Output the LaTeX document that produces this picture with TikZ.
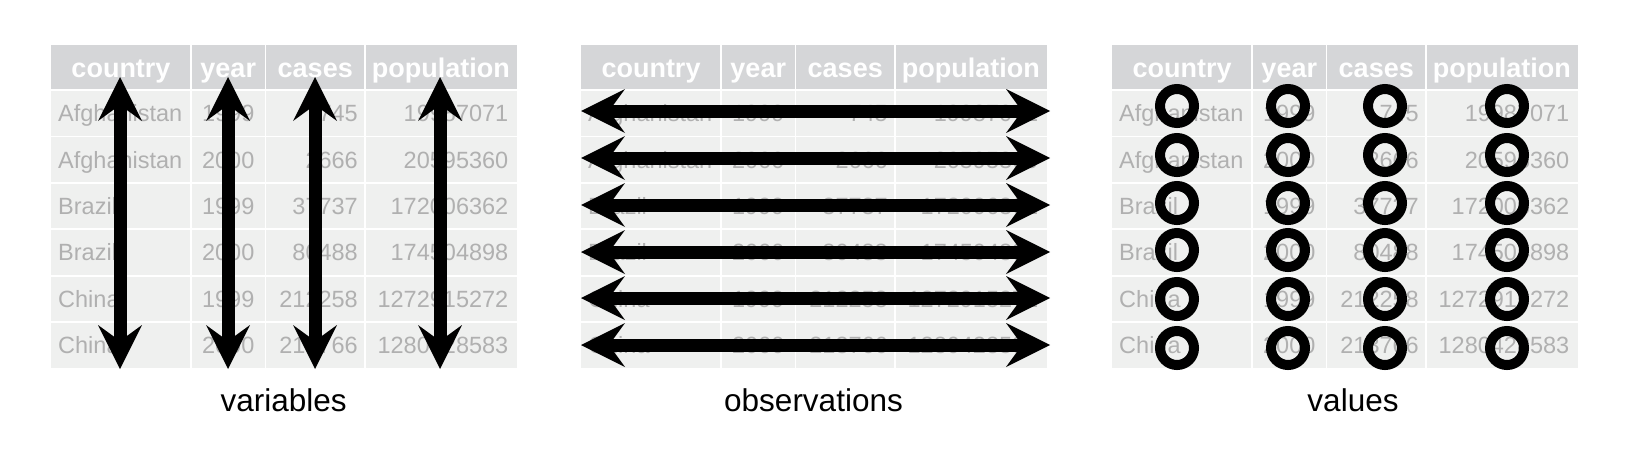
\documentclass[tikz,border=0pt]{standalone}
\usepackage{fontspec}
\setmainfont{Liberation Sans}
\usetikzlibrary{arrows.meta}
\definecolor{hdr}{RGB}{213,214,216}
\definecolor{cellbg}{RGB}{239,240,239}
\definecolor{celltxt}{RGB}{176,176,176}
\begin{document}
\begin{tikzpicture}[x=1pt,y=-1pt,
  hdrtxt/.style={text=white,font=\fontsize{27}{30}\selectfont\bfseries,anchor=base,inner sep=0pt},
  celltext/.style={text=celltxt,font=\fontsize{23.5}{28}\selectfont,inner sep=0pt},
  gridline/.style={white,line width=1.8pt},
  bigarrow/.style={line width=13pt,
    {Stealth[length=44pt,width=44pt,inset=16pt,line width=0pt]}-{Stealth[length=44pt,width=44pt,inset=16pt,line width=0pt]}},
  ring/.style={circle,draw=black,line width=10pt,minimum size=34pt,inner sep=0pt},
  caption/.style={font=\fontsize{31.5}{36}\selectfont,anchor=base,inner sep=0pt}]
\useasboundingbox[fill=white] (0,0) rectangle (1637,466);
% tables
\foreach \ox/\t in {51/a,581/b,1112/c}{
  \fill[hdr] (\ox,45) rectangle ++(465.5,45);
  \fill[cellbg] (\ox,90) rectangle ++(465.5,278.4);
  \foreach \k in {0,...,5}{
    \draw[gridline] (\ox,90+\k*46.4) -- ++(465.5,0);
  }
  \foreach \dx in {140,214.5,314}{
    \draw[gridline] (\ox+\dx,45) -- (\ox+\dx,368.4);
  }
  \node[hdrtxt] (\t-h1) at (\ox+70,77) {country};
  \node[hdrtxt] (\t-h2) at (\ox+177.25,77) {year};
  \node[hdrtxt] (\t-h3) at (\ox+264.25,77) {cases};
  \node[hdrtxt] (\t-h4) at (\ox+389.75,77) {population};
  \foreach \r/\cn/\yr/\cs/\pp in {1/Afghanistan/1999/745/19987071,
      2/Afghanistan/2000/2666/20595360,
      3/Brazil/1999/37737/172006362,
      4/Brazil/2000/80488/174504898,
      5/China/1999/212258/1272915272,
      6/China/2000/213766/1280428583}{
    \pgfmathsetmacro\yb{90+(\r-0.5)*46.4+8.5}
    \node[celltext,anchor=base west] (\t-\r-1) at (\ox+7,\yb) {\cn};
    \node[celltext,anchor=base] (\t-\r-2) at (\ox+177.25,\yb) {\yr};
    \node[celltext,anchor=base east] (\t-\r-3) at (\ox+307,\yb) {\cs};
    \node[celltext,anchor=base east] (\t-\r-4) at (\ox+457.5,\yb) {\pp};
  }
}
% variables: vertical arrows
\foreach \x [count=\i] in {120,228,315,440}{
  \coordinate (vt\i) at (\x,77);
  \coordinate (vb\i) at (\x,369);
  \draw[bigarrow] (vt\i) -- (vb\i);
}
% observations: horizontal arrows
\foreach \y [count=\i] in {111,158,205,252,298,345}{
  \coordinate (ol\i) at (581,\y);
  \coordinate (or\i) at (1050,\y);
  \draw[bigarrow] (ol\i) -- (or\i);
}
% values: rings
\foreach \y [count=\j] in {106,155,203,250,299,348}{
  \foreach \x [count=\i] in {1177,1288,1385,1507}{
    \node[ring] (ring-\j-\i) at (\x,\y) {};
  }
}
% captions
\node[caption] (cap1) at (283.7,411) {variables};
\node[caption] (cap2) at (813.5,411) {observations};
\node[caption] (cap3) at (1353,411) {values};
\end{tikzpicture}
\end{document}
